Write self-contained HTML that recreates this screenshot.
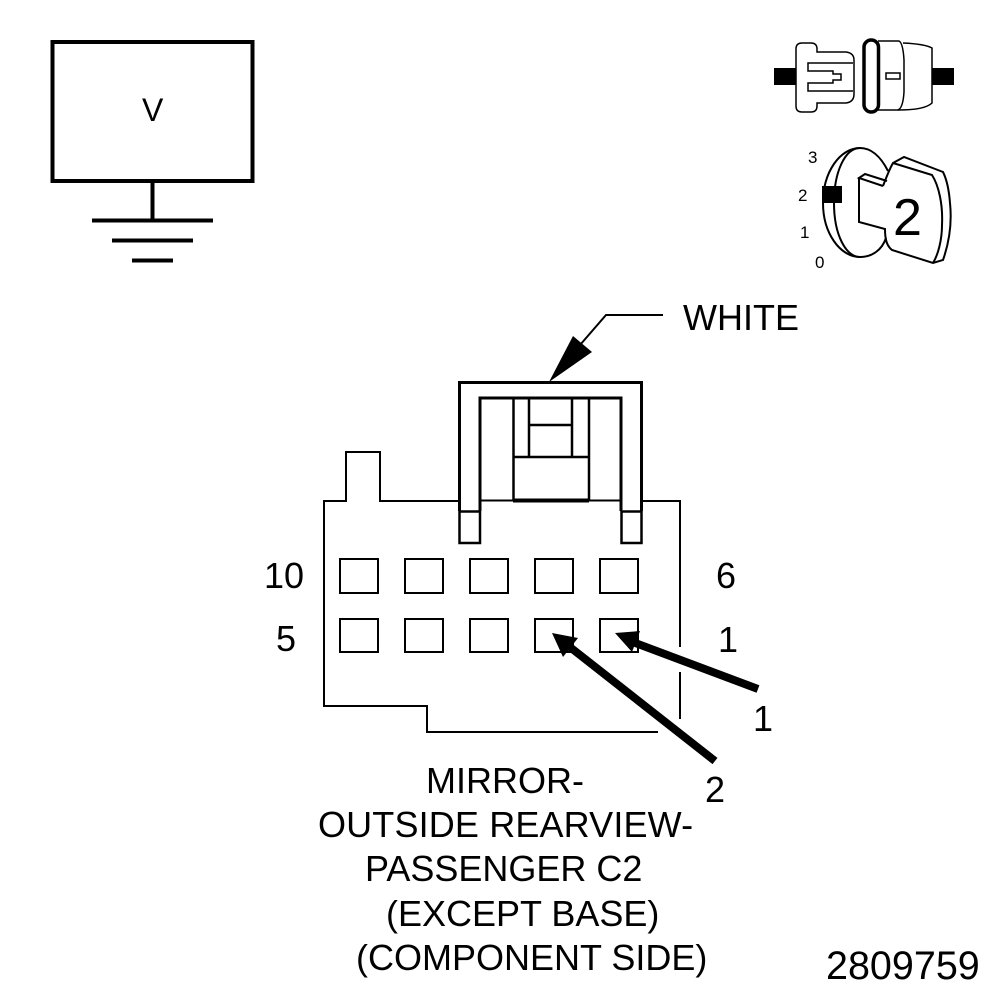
<!DOCTYPE html>
<html><head><meta charset="utf-8"><style>
html,body{margin:0;padding:0;background:#fff}
svg{display:block}
text{font-family:"Liberation Sans",sans-serif;fill:#000}
</style></head><body>
<svg width="1008" height="1000" viewBox="0 0 1008 1000" xmlns="http://www.w3.org/2000/svg">
<g fill="none" stroke="#000" stroke-linejoin="miter">
<!-- V box -->
<rect x="52.5" y="42" width="200" height="139" stroke-width="4"/>
<path d="M152.5 181V220M92 220.500H213M112 240.500H193M132 260.500H173" stroke-width="4"/>

<!-- top icon -->
<path d="M796 49Q796 43 802 43H811Q817 43 817 49V52H846Q854 53 854 60V94Q854 102 846 103H817V106Q817 112 811 112H802Q796 112 796 106Z" stroke-width="1.500"/>
<path d="M853 63H808V71H833V74H841V80H833V83H808V91H853" stroke-width="1.500"/>
<rect x="864" y="40" width="14.500" height="72" rx="7.250" stroke-width="3.500"/>
<path d="M878 41H899Q903 43 904 60V92Q903 108 898 110H878" stroke-width="1.500"/>
<path d="M903 43Q925 44 932 48V103Q925 110 898 110" stroke-width="1.500"/>
<rect x="886" y="73" width="14" height="6" stroke-width="1.500"/>
<!-- key icon -->
<path d="M860 148C840 148 823 172 823 203C823 233 840 257 860 257" stroke-width="2"/>
<path d="M888 171C880 155 870 148 860 148C845 148 834 172 834 203C834 235 846 257 860 257C872 257 882 250 886 238" stroke-width="2"/>
<path d="M883 186L859 178L865 174L887 181M859 178V222L885 229C885 240 887 246 892 250L933 263L943 260C950 240 952 222 950 203C949 190 947 180 943 172L904 157L893 163C889 170 886 178 883 186" stroke-width="2"/>
<path d="M893 163L932 175C939 186 943 205 942 225C942 240 938 255 933 263" stroke-width="2"/>

<!-- connector -->
<path d="M459 501H380V452H346V501H324V706H427V732H658" stroke-width="2"/>
<path d="M641 501H680V647M680 672V719" stroke-width="2"/>
<path d="M459.500 511V382.500H641.500V511" stroke-width="3"/>
<path d="M480 511V398H621V511" stroke-width="3"/>
<path d="M459 511.500H480V543H459.500V511M621 511.500H641.500V543H621.500V511" stroke-width="2.500"/>
<path d="M513.500 398V501M589 398V501M529 398V457M572 398V457M529 425H572" stroke-width="2.500"/>
<path d="M513 457H589" stroke-width="2.500"/>
<path d="M480 500.500H513M589 500.500H621" stroke-width="2"/>
<path d="M513 500.500H589" stroke-width="4"/>
<path d="M663 315H606L580 345" stroke-width="2"/>
<!-- pins -->
<g stroke-width="2">
<rect x="340" y="559" width="38" height="34"/><rect x="405" y="559" width="38" height="34"/><rect x="470" y="559" width="38" height="34"/><rect x="535" y="559" width="38" height="34"/><rect x="600" y="559" width="38" height="34"/>
<rect x="340" y="619" width="38" height="33"/><rect x="405" y="619" width="38" height="33"/><rect x="470" y="619" width="38" height="33"/><rect x="535" y="619" width="38" height="33"/><rect x="600" y="619" width="38" height="33"/>
</g>
<path d="M758 689L630 641M715 761L566 644" stroke-width="8"/>
</g>
<g fill="#000" stroke="none">
<rect x="774" y="68" width="22" height="17"/>
<rect x="932" y="68" width="22" height="17"/>
<rect x="822" y="186" width="20" height="17"/>
<path d="M549 382L573 336L592 352Z"/>
<path d="M615 633L640 631L632 652Z"/>
<path d="M552 633L578 638L563 657Z"/>
</g>
<g font-size="36">
<text x="683" y="330">WHITE</text>
<text x="142" y="121" font-size="32">V</text>
<text x="264" y="588">10</text>
<text x="716" y="588">6</text>
<text x="276" y="651">5</text>
<text x="718" y="652">1</text>
<text x="753" y="731">1</text>
<text x="705" y="802">2</text>
<text x="426" y="793">MIRROR-</text>
<text x="318" y="837" letter-spacing="0.150">OUTSIDE REARVIEW-</text>
<text x="365" y="881">PASSENGER C2</text>
<text x="386" y="926">(EXCEPT BASE)</text>
<text x="356" y="970">(COMPONENT SIDE)</text>
<text x="826" y="979" font-size="39.500">2809759</text>
</g>
<text x="893" y="235" font-size="52">2</text>
<g font-size="17">
<text x="808" y="163">3</text>
<text x="798" y="201">2</text>
<text x="800" y="238">1</text>
<text x="815" y="268">0</text>
</g>
</svg>
</body></html>
